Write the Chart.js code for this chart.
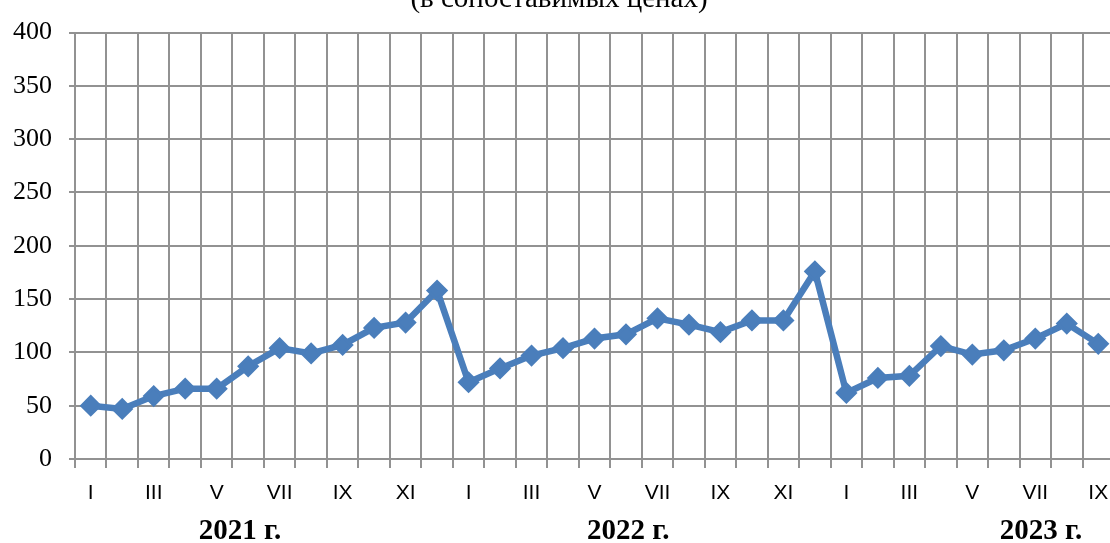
<!DOCTYPE html>
<html>
<head>
<meta charset="utf-8">
<script src="https://cdn.jsdelivr.net/npm/chart.js@4.4.0/dist/chart.umd.min.js"></script>
<style>
  html, body { margin: 0; padding: 0; background: #fff; overflow: hidden; }
  #chart { position: absolute; left: 0; top: 0; }
</style>
</head>
<body>
<canvas id="chart" width="1126" height="543"></canvas>
<script>
// Months (roman numerals), 2021 I .. 2023 IX
const months = [
  "I", "II", "III", "IV", "V", "VI", "VII", "VIII", "IX", "X", "XI", "XII",
  "I", "II", "III", "IV", "V", "VI", "VII", "VIII", "IX", "X", "XI", "XII",
  "I", "II", "III", "IV", "V", "VI", "VII", "VIII", "IX",
];

// Values
const values2021 = [50, 47, 59, 66, 66, 87, 104, 99, 107, 123, 128, 158];
const values2022 = [72, 85, 97, 104, 113, 117, 132, 126, 119, 130, 130, 176];
const values2023 = [62, 76, 78, 106, 98, 102, 113, 127, 108];
const values = values2021.concat(values2022, values2023);

const yearLabels = ["2021 г.", "2022 г.", "2023 г."];
const subtitle = "(в сопоставимых ценах)";
const yTicks = [0, 50, 100, 150, 200, 250, 300, 350, 400];

const BLUE = "#4a7ebb";
const GRID = "#929292";
const SERIF = "'Times New Roman', 'Liberation Serif', serif";
const SANS = "Arial, 'Liberation Sans', sans-serif";

// where the year captions sit, in category units
const yearAt = [4.74, 17.07, 30.18];

// Subtitle (cut off at top) and year captions under the axis
const extraText = {
  id: "extraText",
  afterDraw(chart) {
    const ctx = chart.ctx;
    const x = chart.scales.x;
    ctx.save();
    ctx.fillStyle = "#000";
    ctx.textAlign = "center";
    ctx.textBaseline = "alphabetic";
    ctx.font = "29px " + SERIF;
    ctx.fillText(subtitle, 559, 7);

    ctx.font = "bold 29px " + SERIF;
    ctx.textBaseline = "middle";
    yearLabels.forEach((lbl, i) => {
      ctx.fillText(lbl, x.getPixelForValue(yearAt[i]), 532);
    });
    ctx.restore();
  },
};

const ctx = document.getElementById("chart").getContext("2d");
new Chart(ctx, {
  type: "line",
  data: {
    labels: months,
    datasets: [
      {
        data: values,
        borderColor: BLUE,
        backgroundColor: BLUE,
        borderWidth: 6.5,
        tension: 0,
        pointStyle: "rectRot",
        pointRadius: 9,
        pointBorderWidth: 3,
        pointBackgroundColor: BLUE,
        pointBorderColor: BLUE,
        clip: false,
      },
    ],
  },
  options: {
    responsive: false,
    devicePixelRatio: 1,
    animation: false,
    layout: { padding: { top: 26, right: 4, left: 0, bottom: 0 } },
    plugins: {
      legend: { display: false },
      tooltip: { enabled: false },
    },
    scales: {
      x: {
        type: "category",
        offset: true,
        grid: {
          offset: true,
          color: GRID,
          lineWidth: 2,
          tickLength: 9,
        },
        border: { display: false },
        ticks: {
          autoSkip: false,
          maxRotation: 0,
          padding: 13,
          color: "#000",
          font: { family: SANS, size: 21 },
          callback: (v, i) => (i % 2 === 0 ? months[i] : ""),
        },
        afterFit: (scale) => {
          scale.height = 84;
          scale.paddingLeft = 0;
          scale.paddingRight = 0;
        },
      },
      y: {
        min: 0,
        max: 400,
        afterBuildTicks: (scale) => {
          scale.ticks = yTicks.map((v) => ({ value: v }));
        },
        grid: {
          color: GRID,
          lineWidth: 2,
          tickLength: 6,
        },
        border: { display: false },
        ticks: {
          padding: 17,
          color: "#000",
          font: { family: SERIF, size: 26 },
        },
        afterFit: (scale) => {
          scale.width = 75;
        },
      },
    },
  },
  plugins: [extraText],
});
</script>
</body>
</html>
